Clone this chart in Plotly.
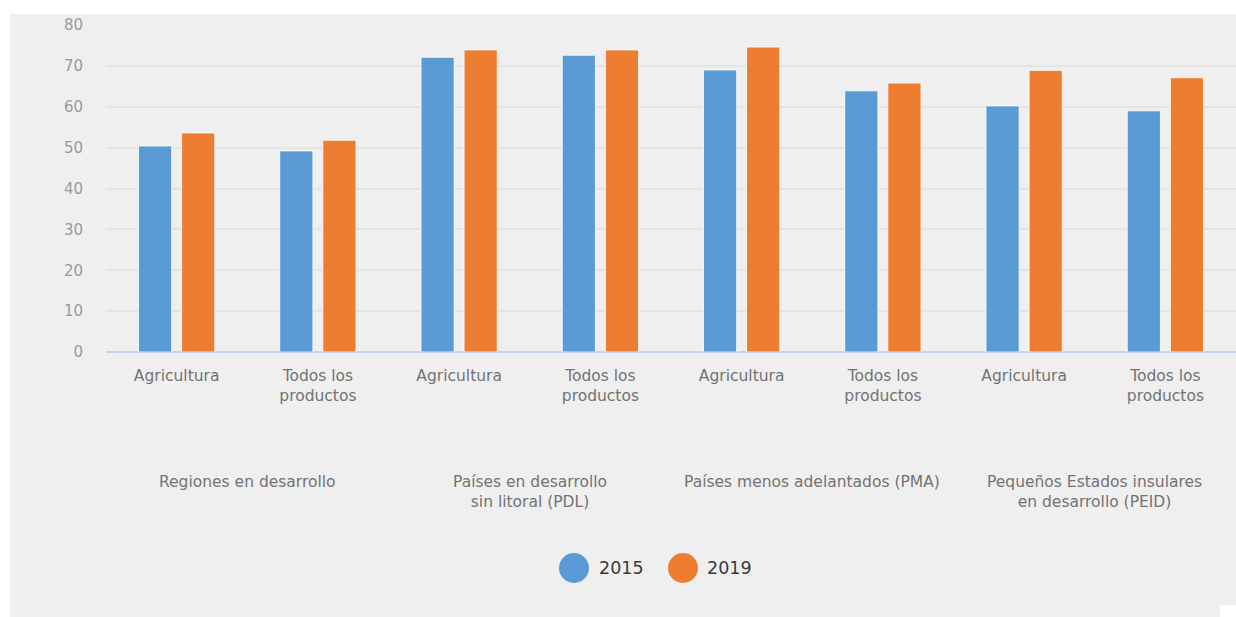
import plotly.graph_objects as go

# Data
groups = [
    "Regiones en desarrollo",
    "Países en desarrollo<br>sin litoral (PDL)",
    "Países menos adelantados (PMA)",
    "Pequeños Estados insulares<br>en desarrollo (PEID)",
]
products = ["Agricultura", "Todos los<br>productos"]
series_names = ["2015", "2019"]
values_2015 = [50.4, 49.2, 72.1, 72.6, 69.0, 63.9, 60.2, 59.0]
values_2019 = [53.6, 51.8, 73.9, 73.9, 74.6, 65.8, 68.9, 67.1]
colors = ["#5b9bd5", "#ed7d31"]
y_ticks = [0, 10, 20, 30, 40, 50, 60, 70, 80]

W, H = 1236, 617
L, R, T, B = 106, 0, 25, 265  # plot area: x 106..1236, y 25..352
FONT = "DejaVu Sans"
BG = "#efefef"

positions = list(range(len(groups) * len(products)))
tick_text = [p for _ in groups for p in products]

fig = go.Figure()
for name, vals, col in zip(series_names, [values_2015, values_2019], colors):
    fig.add_trace(go.Bar(
        x=positions, y=vals, name=name,
        marker=dict(color=col, line=dict(color="rgba(255,255,255,0.8)", width=1)),
        showlegend=False,
    ))

def px_x(px):
    return (px - L) / (W - L - R)

def px_y(py):
    return (H - B - py) / (H - T - B)

shapes = [
    # white page margins around the grey panel
    dict(type="rect", xref="paper", yref="paper", x0=px_x(0), x1=px_x(10), y0=px_y(H), y1=px_y(0),
         fillcolor="white", line=dict(width=0), layer="below"),
    dict(type="rect", xref="paper", yref="paper", x0=px_x(0), x1=px_x(W), y0=px_y(14), y1=px_y(0),
         fillcolor="white", line=dict(width=0), layer="below"),
    dict(type="rect", xref="paper", yref="paper", x0=px_x(1220), x1=px_x(W), y0=px_y(H), y1=px_y(605),
         fillcolor="white", line=dict(width=0), layer="below"),
]

annotations = []
# group labels centred under each pair of categories
for i, g in enumerate(groups):
    cx = 2 * i + 0.5
    annotations.append(dict(
        x=cx, xref="x", y=px_y(471), yref="paper", yanchor="top", xanchor="center",
        text=g, showarrow=False, align="center",
        font=dict(family=FONT, size=15.5, color="#737373"),
    ))

# legend drawn as circles with labels
legend_items = [(574, 597), (683, 705)]
for (cx, tx), name, col in zip(legend_items, series_names, colors):
    r = 15
    shapes.append(dict(type="circle", xref="paper", yref="paper",
                       x0=px_x(cx - r), x1=px_x(cx + r), y0=px_y(568 + r), y1=px_y(568 - r),
                       fillcolor=col, line=dict(width=0)))
    annotations.append(dict(
        x=px_x(tx), xref="paper", y=px_y(568), yref="paper", xanchor="left", yanchor="middle",
        text=name, showarrow=False, font=dict(family=FONT, size=17.5, color="#3a3a3a"),
    ))

fig.update_layout(
    width=W, height=H,
    margin=dict(l=L, r=R, t=T, b=B, pad=0),
    paper_bgcolor=BG, plot_bgcolor="rgba(0,0,0,0)",
    barmode="group", bargap=0.39, bargroupgap=0.23,
    showlegend=False,
    shapes=shapes, annotations=annotations,
    xaxis=dict(
        tickmode="array", tickvals=positions, ticktext=tick_text,
        range=[-0.5, len(positions) - 0.5],
        showgrid=False, zeroline=False, showline=False, ticks="",
        ticklabelstandoff=12,
        tickfont=dict(family=FONT, size=15.5, color="#737373"),
    ),
    yaxis=dict(
        range=[0, 80], tickvals=y_ticks,
        showgrid=True, gridcolor="#e4e4e4", gridwidth=2,
        zeroline=True, zerolinecolor="#c8d5e8", zerolinewidth=2,
        showline=False, ticks="", ticklabelstandoff=22,
        tickfont=dict(family=FONT, size=15, color="#9a9a9a"),
    ),
    font=dict(family=FONT),
)

fig.write_html("out.html")
